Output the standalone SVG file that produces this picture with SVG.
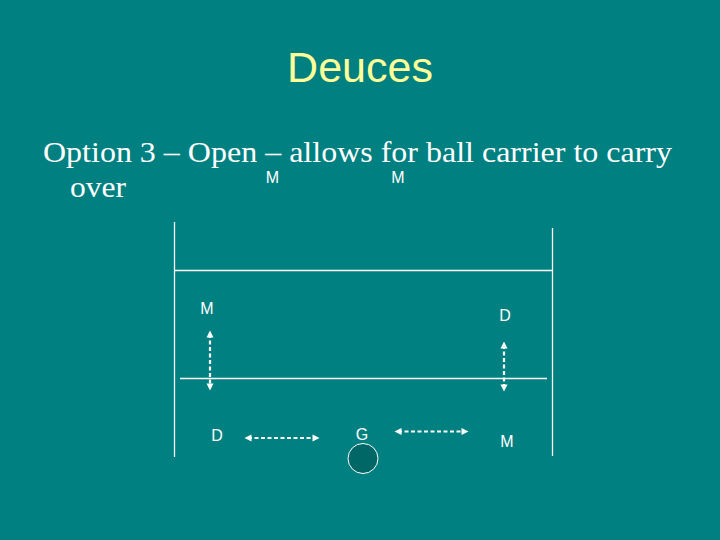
<svg xmlns="http://www.w3.org/2000/svg" width="720" height="540" viewBox="0 0 720 540">
<defs>
<marker id="ah" viewBox="0 0 10 10" refX="5" refY="5" markerWidth="3.2" markerHeight="3.2" orient="auto-start-reverse">
<path d="M0,0 L10,5 L0,10 z" fill="#fff"/>
</marker>
<style>
.field{stroke:#fff;stroke-width:1.3;fill:none}
.arr{stroke:#fff;stroke-width:2.2;stroke-dasharray:4,2.5;fill:none;marker-start:url(#ah);marker-end:url(#ah)}
.lbl{font-family:"Liberation Sans",Arial,sans-serif;font-size:16px;fill:#fff;text-anchor:middle}
</style>
</defs>
<rect width="720" height="540" fill="#008080"/>
<text x="360" y="82" font-family="'Liberation Sans',Arial,sans-serif" font-size="43" fill="#ffff99" text-anchor="middle">Deuces</text>
<text x="43" y="162" font-family="'Liberation Serif','Times New Roman',serif" font-size="30" fill="#fff" textLength="629" lengthAdjust="spacingAndGlyphs">Option 3 – Open – allows for ball carrier to carry</text>
<text x="70" y="197" font-family="'Liberation Serif','Times New Roman',serif" font-size="30" fill="#fff" textLength="56" lengthAdjust="spacingAndGlyphs">over</text>
<g id="field">
<line class="field" x1="174.5" y1="222" x2="174.5" y2="457"/>
<line class="field" x1="552.5" y1="228" x2="552.5" y2="456"/>
<line class="field" x1="174" y1="270.5" x2="552" y2="270.5"/>
<line class="field" x1="180" y1="378.5" x2="547" y2="378.5"/>
</g>
<g id="connectors">
<line class="arr" x1="210" y1="334" x2="210" y2="387"/>
<line class="arr" x1="504" y1="345" x2="504" y2="388"/>
<line class="arr" x1="248" y1="438" x2="316" y2="438"/>
<line class="arr" x1="398" y1="431.5" x2="465" y2="431.5"/>
</g>
<g id="m-top1"><text class="lbl" x="272.5" y="183">M</text></g>
<g id="m-top2"><text class="lbl" x="398" y="183">M</text></g>
<g id="m-left"><text class="lbl" x="207" y="314">M</text></g>
<g id="d-right"><text class="lbl" x="505" y="321">D</text></g>
<g id="d-left"><text class="lbl" x="217" y="441">D</text></g>
<g id="g-goalie"><text class="lbl" x="362" y="440">G</text></g>
<g id="m-right"><text class="lbl" x="507" y="447">M</text></g>
<g id="ball"><circle cx="363" cy="458.5" r="15" fill="#006666" stroke="#fff" stroke-width="1"/></g>
</svg>
